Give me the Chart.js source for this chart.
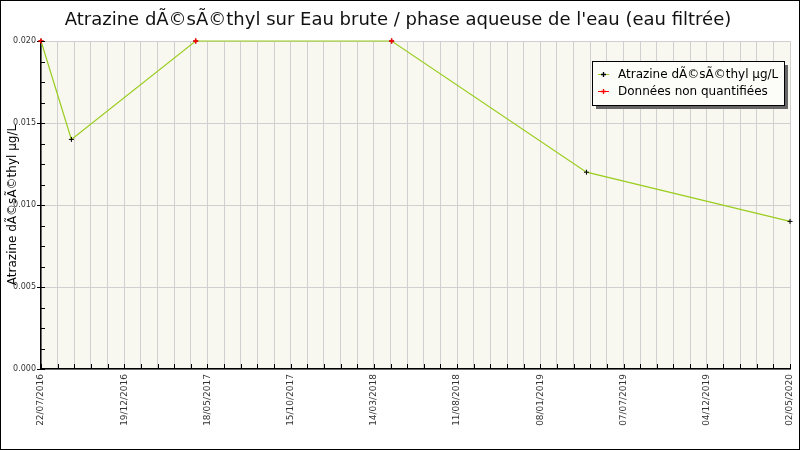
<!DOCTYPE html>
<html>
<head>
<meta charset="utf-8">
<script src="https://cdn.jsdelivr.net/npm/chart.js@4/dist/chart.umd.min.js"></script>
<style>
  body { margin: 0; background: #fff; }
  canvas { display: block; }
</style>
</head>
<body>
<canvas id="chart" width="800" height="450"></canvas>
<script>
// sample dates, values (µg/L) and whether the value was below quantification
var sampleDates = ['2016-07-22', '2016-09-16', '2017-05-03', '2018-04-29', '2019-04-23', '2020-05-02'];
var sampleValues = [0.020, 0.014, 0.020, 0.020, 0.012, 0.009];
var nonQuantified = [true, false, true, true, false, false];

// date labels as printed on the axis (evenly spaced)
var tickLabels = ['22/07/2016', '19/12/2016', '18/05/2017', '15/10/2017', '14/03/2018',
                  '11/08/2018', '08/01/2019', '07/07/2019', '04/12/2019', '02/05/2020'];
var startDate = '2016-07-22';
var endDate = '2020-05-02';
var gridPerLabel = 5;   // grid lines between two date labels

var yMax = 0.02;
var yStep = 0.00125;    // minor tick step
var yLabelEvery = 4;    // one labelled grid line every 4 minor ticks

var seriesLabel = 'Atrazine dÃ©sÃ©thyl µg/L';
var nqLabel = 'Données non quantifiées';
var titleText = "Atrazine dÃ©sÃ©thyl sur Eau brute / phase aqueuse de l'eau (eau filtrée)";

var DAY = 86400000;
function toDay(s) {
    var p = s.split('-');
    var q = startDate.split('-');
    return Math.round((Date.UTC(+p[0], +p[1] - 1, +p[2]) - Date.UTC(+q[0], +q[1] - 1, +q[2])) / DAY);
}

var mainPoints = sampleDates.map(function (d, i) { return {x: toDay(d), y: sampleValues[i]}; });
var nqPoints = mainPoints.filter(function (p, i) { return nonQuantified[i]; });

var lineColor = '#9acd1e';

var extras = {
    id: 'extras',
    beforeDraw: function (chart) {
        var ctx = chart.ctx, a = chart.chartArea;
        ctx.save();
        ctx.fillStyle = '#f8f8f0';
        ctx.fillRect(a.left, a.top, a.right - a.left, a.bottom - a.top);
        ctx.restore();
    },
    afterDatasetsDraw: function (chart) {
        var ctx = chart.ctx, a = chart.chartArea;
        var xs = chart.scales.x, ys = chart.scales.y;
        ctx.save();
        ctx.strokeStyle = '#000';
        ctx.lineWidth = 1;
        ctx.beginPath();
        xs.ticks.forEach(function (t) {
            var px = Math.round(xs.getPixelForValue(t.value)) + 0.5;
            ctx.moveTo(px, a.bottom);
            ctx.lineTo(px, a.bottom - 5);
        });
        ys.ticks.forEach(function (t) {
            var py = Math.round(ys.getPixelForValue(t.value)) + 0.5;
            ctx.moveTo(a.left, py);
            ctx.lineTo(a.left + 4, py);
        });
        ctx.stroke();
        ctx.restore();
    },
    afterDraw: function (chart) {
        var ctx = chart.ctx;
        ctx.save();
        // legend box with shadow
        var bx = 592, by = 61, bw = 192, bh = 44;
        ctx.fillStyle = '#666';
        ctx.fillRect(bx + 4, by + 4, bw, bh);
        ctx.fillStyle = '#fcfcf8';
        ctx.fillRect(bx, by, bw, bh);
        ctx.strokeStyle = '#000';
        ctx.lineWidth = 1;
        ctx.strokeRect(bx + 0.5, by + 0.5, bw, bh);
        var rows = [
            {text: seriesLabel, line: lineColor, mark: '#000'},
            {text: nqLabel, line: '#ff0000', mark: '#ff0000'}
        ];
        ctx.font = '12px "DejaVu Sans"';
        ctx.textBaseline = 'middle';
        rows.forEach(function (r, i) {
            var ry = by + 13.5 + i * 17;
            ctx.strokeStyle = r.line;
            ctx.beginPath();
            ctx.moveTo(bx + 6, ry); ctx.lineTo(bx + 17, ry);
            ctx.stroke();
            ctx.strokeStyle = r.mark;
            ctx.lineWidth = 1.3;
            ctx.beginPath();
            ctx.moveTo(bx + 11.5, ry - 2.5); ctx.lineTo(bx + 11.5, ry + 2.5);
            ctx.moveTo(bx + 9, ry); ctx.lineTo(bx + 14, ry);
            ctx.stroke();
            ctx.lineWidth = 1;
            ctx.fillStyle = '#000';
            ctx.fillText(r.text, bx + 26, ry);
        });
        // outer frame
        ctx.strokeStyle = '#000';
        ctx.strokeRect(0.5, 0.5, 799, 449);
        ctx.restore();
    }
};

var span = toDay(endDate) - toDay(startDate);
var gridCount = (tickLabels.length - 1) * gridPerLabel;

new Chart('chart', {
    type: 'line',
    data: {
        datasets: [{
            label: seriesLabel,
            data: mainPoints,
            borderColor: lineColor,
            borderWidth: 1.2,
            pointStyle: 'cross',
            pointRadius: 2.5,
            pointBorderWidth: 1,
            pointBorderColor: '#000',
            tension: 0,
            clip: false,
            order: 2
        }, {
            label: nqLabel,
            data: nqPoints,
            showLine: false,
            pointStyle: 'cross',
            pointRadius: 2.5,
            pointBorderWidth: 1.6,
            pointBorderColor: '#ff0000',
            clip: false,
            order: 1
        }]
    },
    options: {
        responsive: false,
        animation: false,
        devicePixelRatio: 1,
        layout: {padding: {left: 6, right: 10, top: 0, bottom: 0}},
        plugins: {
            legend: {display: false},
            tooltip: {enabled: false},
            title: {
                display: true,
                text: titleText,
                color: '#111',
                font: {family: 'DejaVu Sans', size: 18, weight: 'normal'},
                padding: {top: 10, bottom: 9.4}
            }
        },
        scales: {
            x: {
                type: 'linear',
                min: 0,
                max: span,
                afterBuildTicks: function (s) {
                    var t = [];
                    for (var i = 0; i <= gridCount; i++) t.push({value: i * span / gridCount});
                    s.ticks = t;
                },
                afterFit: function (s) {
                    s.height = 81;
                    s.paddingLeft = 0;
                    s.paddingRight = 0;
                },
                grid: {color: '#d0d0d0', drawTicks: false},
                border: {color: '#000', width: 1.5},
                ticks: {
                    autoSkip: false,
                    minRotation: 90,
                    maxRotation: 90,
                    padding: 5,
                    color: '#333',
                    font: {family: 'DejaVu Sans', size: 9},
                    callback: function (v, i) {
                        return i % gridPerLabel === 0 ? tickLabels[i / gridPerLabel] : '';
                    }
                }
            },
            y: {
                min: 0,
                max: yMax,
                afterBuildTicks: function (s) {
                    var t = [];
                    var n = Math.round(yMax / yStep);
                    for (var i = 0; i <= n; i++) t.push({value: i * yStep});
                    s.ticks = t;
                },
                afterFit: function (s) { s.width = 35; },
                title: {
                    display: true,
                    text: seriesLabel,
                    color: '#000',
                    padding: 0,
                    font: {family: 'DejaVu Sans', size: 12}
                },
                border: {color: '#000', width: 1.5},
                grid: {
                    color: function (c) { return c.index % yLabelEvery === 0 ? '#d0d0d0' : 'rgba(0,0,0,0)'; },
                    tickColor: function (c) { return c.index % yLabelEvery === 0 ? '#000' : 'rgba(0,0,0,0)'; },
                    tickLength: 4
                },
                ticks: {
                    autoSkip: false,
                    padding: 1,
                    color: '#333',
                    font: {family: 'DejaVu Sans', size: 8},
                    callback: function (v, i) {
                        return i % yLabelEvery === 0 ? v.toFixed(3) : '';
                    }
                }
            }
        }
    },
    plugins: [extras]
});
</script>
</body>
</html>
